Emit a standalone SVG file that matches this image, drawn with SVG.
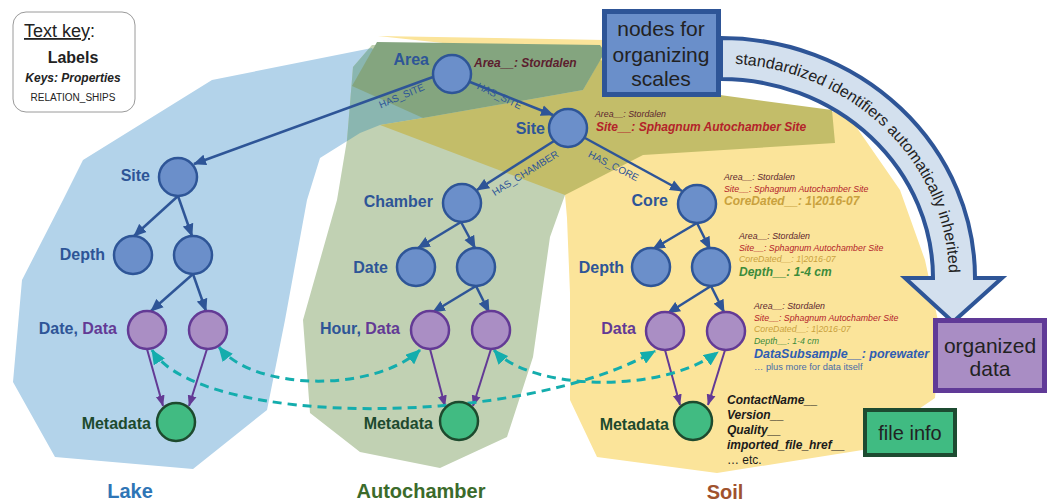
<svg xmlns="http://www.w3.org/2000/svg" width="1054" height="502" viewBox="0 0 1054 502">
<defs>
<style>
text{font-family:"Liberation Sans",Arial,sans-serif}
.nb{fill:#6b8fca;stroke:#2e5597;stroke-width:2.5}
.np{fill:#aa8ec4;stroke:#633a95;stroke-width:2.5}
.ng{fill:#41bb82;stroke:#1d4a2e;stroke-width:2.5}
.lb{font-size:16px;font-weight:bold;fill:#2e5597;text-anchor:end}
.lp{fill:#633a95}
.lg{font-size:16px;font-weight:bold;fill:#1d4a2e;text-anchor:end}
.eb{stroke:#2e5597;stroke-width:2.5;fill:none;marker-end:url(#ab)}
.ep{stroke:#633a95;stroke-width:2;fill:none;marker-end:url(#ap)}
.ed{stroke:#14adad;stroke-width:3;fill:none;stroke-dasharray:9 6;marker-start:url(#at);marker-end:url(#at)}
.rel{font-size:10px;fill:#2e5597;text-anchor:middle}
.s9{font-size:8.8px;font-style:italic}
.b12{font-size:12px;font-style:italic;font-weight:bold}
.ar{fill:#5c1d2e}
.si{fill:#b3232a}
.cd{fill:#c9a13d}
.dp{fill:#3b8b3b}
.mk{font-size:12px;font-style:italic;font-weight:bold;fill:#1a1a1a}
.reg{font-size:20px;font-weight:bold;text-anchor:middle}
.box{font-size:21px;fill:#222;text-anchor:middle}
.arc{font-size:16px;fill:#222}
</style>
<marker id="ab" markerUnits="userSpaceOnUse" markerWidth="13" markerHeight="12" viewBox="0 0 13 12" refX="12" refY="6" orient="auto"><path d="M0,0.5 L13,6 L0,11.5 z" fill="#2e5597"/></marker>
<marker id="ap" markerUnits="userSpaceOnUse" markerWidth="11" markerHeight="10" viewBox="0 0 11 10" refX="10.5" refY="5" orient="auto"><path d="M0,0.5 L11,5 L0,9.5 z" fill="#633a95"/></marker>
<marker id="at" markerUnits="userSpaceOnUse" markerWidth="15" markerHeight="13" viewBox="0 0 15 13" refX="14" refY="6.5" orient="auto-start-reverse"><path d="M0,0 L15,6.5 L0,13 z" fill="#14adad"/></marker>
<clipPath id="cg"><polygon points="372,45 600,45 600,150 565,195 550,237 533,357 507,437 440,468 360,452 310,413 303,320 337,200 347,140 353,67"/></clipPath>
<path id="arcText" d="M721,63.5 A228,214.5 0 0 1 949,278"/>
</defs>

<g id="regions">
<polygon id="lake-zone" fill="#b3d3ea" points="83,160 212,80 372,48 423,118 380,125 360,133 320,158 307,200 285,320 267,410 193,469 55,457 13,382 22,280 63,200"/>
<polygon id="autochamber-zone" fill="#c1d1b3" points="372,45 600,45 600,150 565,195 550,237 533,357 507,437 440,468 360,452 310,413 303,320 337,200 347,140 353,67"/>
<polygon id="lake-auto-overlap" fill="#8ab6b0" clip-path="url(#cg)" points="83,160 212,80 372,48 423,118 380,125 360,133 320,158 307,200 285,320 267,410 193,469 55,457 13,382 22,280 63,200"/>
<polygon id="soil-zone" fill="#fbe49a" points="378,36 605,40 700,97 835,112 848,115 900,190 925,260 940,330 935,398 913,413 875,448 717,473 597,457 570,400 570,293 567,218 565,195 600,160 600,60"/>
<polygon id="site-zone" fill="#c3bd69" points="423,118 583,90 600,60 720,95 832,110 835,143 643,155 565,195 380,125"/>
<polygon id="area-zone" fill="#84a57f" points="377,42 600,45 605,52 583,90 423,118 352,86"/>
</g>

<g id="region-labels">
<text class="reg" x="130" y="498" fill="#2e75b6">Lake</text>
<text class="reg" x="421" y="498" fill="#3b6b2b">Autochamber</text>
<text class="reg" x="725" y="499" fill="#a0522d">Soil</text>
</g>

<g id="connectors">
<path class="eb" d="M433,77 L194,164"/>
<path class="eb" d="M470,82 L553,115"/>
<path class="eb" d="M554,141 L477,190"/>
<path class="eb" d="M585,138 L682,191"/>
<path class="eb" d="M178,196 L134,236"/>
<path class="eb" d="M178,196 L192,236"/>
<path class="eb" d="M193,274 L151,311"/>
<path class="eb" d="M193,274 L206,311"/>
<path class="eb" d="M461,222 L418,248"/>
<path class="eb" d="M461,222 L475,248"/>
<path class="eb" d="M476,286 L433,312"/>
<path class="eb" d="M476,286 L489,312"/>
<path class="eb" d="M697,223 L653,249"/>
<path class="eb" d="M697,223 L710,249"/>
<path class="eb" d="M711,286 L668,313"/>
<path class="eb" d="M711,286 L724,312"/>
<path class="ep" d="M147,349 L163,406"/>
<path class="ep" d="M207,349 L189,406"/>
<path class="ep" d="M430,349 L445,406"/>
<path class="ep" d="M491,349 L473,406"/>
<path class="ep" d="M665,350 L680,405"/>
<path class="ep" d="M725,350 L708,405"/>
<path class="ed" d="M219,347 C255,392 375,392 420,350"/>
<path class="ed" d="M152,350 C200,428 520,428 655,351"/>
<path class="ed" d="M494,350 C530,390 660,395 718,352"/>
<text class="rel" transform="translate(403,99) rotate(-23)">HAS_SITE</text>
<text class="rel" transform="translate(498,99) rotate(26)">HAS_SITE</text>
<text class="rel" transform="translate(527,176) rotate(-32)">HAS_CHAMBER</text>
<text class="rel" transform="translate(612,169) rotate(27)">HAS_CORE</text>
</g>

<g id="text-key">
<rect x="13" y="12" width="122" height="100" rx="13" fill="#fff" stroke="#9a9a9a" stroke-width="1"/>
<text x="24" y="37" font-size="18" fill="#222"><tspan text-decoration="underline">Text key</tspan>:</text>
<text x="73" y="63" font-size="16" font-weight="bold" fill="#222" text-anchor="middle">Labels</text>
<text x="73" y="82" font-size="12" font-weight="bold" font-style="italic" fill="#222" text-anchor="middle">Keys: Properties</text>
<text x="73" y="101" font-size="10" fill="#222" text-anchor="middle">RELATION_SHIPS</text>
</g>

<g id="area"><circle class="nb" cx="452" cy="74" r="19"/><text class="lb" x="429" y="65">Area</text>
<text class="b12 ar" x="474" y="67">Area__: Stordalen</text></g>
<g id="site"><circle class="nb" cx="568" cy="128" r="19"/><text class="lb" x="545" y="134">Site</text>
<text class="s9 ar" x="595" y="117">Area__: Stordalen</text>
<text class="b12 si" x="596" y="131">Site__: Sphagnum Autochamber Site</text></g>

<g id="lake-site"><circle class="nb" cx="178" cy="177" r="19"/><text class="lb" x="150" y="181">Site</text></g>
<g id="lake-depth-1"><circle class="nb" cx="133" cy="255" r="19"/><text class="lb" x="105" y="260">Depth</text></g>
<g id="lake-depth-2"><circle class="nb" cx="193" cy="255" r="19"/></g>
<g id="lake-data-1"><circle class="np" cx="147" cy="330" r="19"/><text class="lb" x="117" y="334">Date, <tspan class="lp">Data</tspan></text></g>
<g id="lake-data-2"><circle class="np" cx="208" cy="330" r="19"/></g>
<g id="lake-metadata"><circle class="ng" cx="176" cy="422" r="19"/><text class="lg" x="151" y="429">Metadata</text></g>

<g id="chamber"><circle class="nb" cx="462" cy="203" r="19"/><text class="lb" x="433" y="207">Chamber</text></g>
<g id="auto-date-1"><circle class="nb" cx="416" cy="267" r="19"/><text class="lb" x="388" y="273">Date</text></g>
<g id="auto-date-2"><circle class="nb" cx="476" cy="267" r="19"/></g>
<g id="auto-data-1"><circle class="np" cx="430" cy="330" r="19"/><text class="lb" x="400" y="334">Hour, <tspan class="lp">Data</tspan></text></g>
<g id="auto-data-2"><circle class="np" cx="491" cy="330" r="19"/></g>
<g id="auto-metadata"><circle class="ng" cx="459" cy="421" r="19"/><text class="lg" x="433" y="429">Metadata</text></g>

<g id="core"><circle class="nb" cx="697" cy="204" r="19"/><text class="lb" x="668" y="206">Core</text>
<text class="s9 ar" x="724" y="180">Area__: Stordalen</text>
<text class="s9 si" x="724" y="191.5">Site__: Sphagnum Autochamber Site</text>
<text class="b12 cd" x="724" y="205">CoreDated__: 1|2016-07</text></g>
<g id="soil-depth-1"><circle class="nb" cx="651" cy="267" r="19"/><text class="lb" x="624" y="273">Depth</text></g>
<g id="soil-depth-2"><circle class="nb" cx="711" cy="267" r="19"/>
<text class="s9 ar" x="739" y="239">Area__: Stordalen</text>
<text class="s9 si" x="739" y="250.5">Site__: Sphagnum Autochamber Site</text>
<text class="s9 cd" x="739" y="262">CoreDated__: 1|2016-07</text>
<text class="b12 dp" x="739" y="276">Depth__: 1-4 cm</text></g>
<g id="soil-data-1"><circle class="np" cx="665" cy="331" r="19"/><text class="lb lp" x="636" y="334">Data</text></g>
<g id="soil-data-2"><circle class="np" cx="726" cy="331" r="19"/>
<text class="s9 ar" x="754" y="309">Area__: Stordalen</text>
<text class="s9 si" x="754" y="320.5">Site__: Sphagnum Autochamber Site</text>
<text class="s9 cd" x="754" y="332">CoreDated__: 1|2016-07</text>
<text class="s9 dp" x="754" y="343.5">Depth__: 1-4 cm</text>
<text x="754" y="358" font-size="12.5" font-style="italic" font-weight="bold" fill="#2f5db3">DataSubsample__: porewater</text>
<text x="754" y="370" font-size="9.3" fill="#4a6ca8">… plus more for data itself</text></g>
<g id="soil-metadata"><circle class="ng" cx="693" cy="421" r="19"/><text class="lg" x="669" y="430">Metadata</text>
<text class="mk" x="727" y="404">ContactName__</text>
<text class="mk" x="727" y="419">Version__</text>
<text class="mk" x="727" y="434">Quality__</text>
<text class="mk" x="727" y="449">imported_file_href__</text>
<text x="727" y="464" font-size="12" fill="#1a1a1a">… etc.</text></g>

<g id="inherit-arrow">
<path d="M721,38 A254,240 0 0 1 975,278 L1002,278 L953,322 L905,278 L933,278 A212,199 0 0 0 721,79 Z" fill="#d3e0ee" stroke="#2e5597" stroke-width="4" stroke-linejoin="miter"/>
<text class="arc"><textPath href="#arcText" startOffset="14">standardized</textPath></text>
<text class="arc"><textPath href="#arcText" startOffset="110">identifiers</textPath></text>
<text class="arc"><textPath href="#arcText" startOffset="183">automatically</textPath></text>
<text class="arc"><textPath href="#arcText" startOffset="281">inherited</textPath></text>
</g>

<g id="organizing-box">
<rect x="604.5" y="11.5" width="114" height="83" fill="#6a8fca" stroke="#2e5597" stroke-width="5"/>
<text class="box" x="661" y="36">nodes for</text>
<text class="box" x="661" y="62">organizing</text>
<text class="box" x="661" y="86">scales</text>
</g>
<g id="organized-data-box">
<rect x="935.5" y="320.5" width="109" height="70" fill="#a98dc4" stroke="#603a97" stroke-width="5"/>
<text class="box" x="990" y="353">organized</text>
<text class="box" x="990" y="376">data</text>
</g>
<g id="file-info-box">
<rect x="865" y="410" width="90" height="45" fill="#40bb82" stroke="#1d4b31" stroke-width="4"/>
<text x="910" y="440" font-size="20" fill="#222" text-anchor="middle">file info</text>
</g>
</svg>
